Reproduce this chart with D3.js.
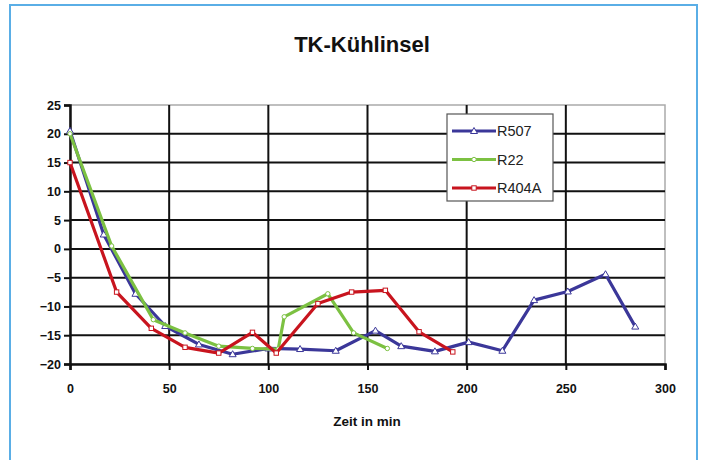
<!DOCTYPE html>
<html><head><meta charset="utf-8">
<script src="https://cdn.jsdelivr.net/npm/d3@7"></script>
<style>body{margin:0;background:#fff;}svg{display:block;font-family:"Liberation Sans",Arial,sans-serif;}</style>
</head><body>
<svg id="c" width="704" height="460"></svg>
<script>
const title = "TK-Kühlinsel";
const xTitle = "Zeit in min";
const seriesNames = ["R507", "R22", "R404A"];
const xTicks = [0, 50, 100, 150, 200, 250, 300];
const yTicks = [-20, -15, -10, -5, 0, 5, 10, 15, 20, 25];

const r507Time = [0, 17, 33, 48, 65, 82, 100, 116, 134, 154, 167, 184, 201, 218, 234, 251, 270, 285];
const r507Temp = [20.5, 2.5, -7.8, -13.4, -16.6, -18.3, -17.3, -17.4, -17.7, -14.2, -16.9, -17.8, -16.2, -17.7, -8.9, -7.4, -4.4, -13.5];
const r22Time = [0, 21, 42, 58, 75, 92, 105, 108, 130, 143, 160];
const r22Temp = [20, 0.5, -12.3, -14.6, -16.9, -17.3, -17.4, -11.8, -7.8, -14.6, -17.3];
const r404aTime = [0, 23.5, 41, 58, 75, 92, 104, 125, 142, 159, 176, 193];
const r404aTemp = [15, -7.5, -13.8, -17.1, -18.1, -14.5, -18.1, -9.5, -7.5, -7.2, -14.4, -17.9];

const colors = ["#3b3799", "#7cc142", "#c8141e"];
const markers = ["triangle", "circle", "square"];

const svg = d3.select("#c");
svg.append("rect").attr("x", 10).attr("y", 5).attr("width", 687).attr("height", 470)
  .attr("fill", "#fff").attr("stroke", "#5aaee6").attr("stroke-width", 2);

const x = d3.scaleLinear().domain([0, 300]).range([70, 665]);
const y = d3.scaleLinear().domain([-20, 25]).range([364, 105]);

svg.append("text").attr("x", 362).attr("y", 52).attr("text-anchor", "middle")
  .attr("font-size", 22).attr("font-weight", "bold").attr("fill", "#111").text(title);

svg.append("rect").attr("x", x(0)).attr("y", y(25)).attr("width", x(300) - x(0)).attr("height", y(-20) - y(25))
  .attr("fill", "none").attr("stroke", "#aaa").attr("stroke-width", 1.5);

const g = svg.append("g");
g.selectAll(".hg").data(yTicks.filter(v => v > -20 && v < 25)).join("line")
  .attr("x1", x(0)).attr("x2", x(300)).attr("y1", d => y(d)).attr("y2", d => y(d))
  .attr("stroke", "#111").attr("stroke-width", 2);
g.selectAll(".vg").data(xTicks.filter(v => v > 0 && v < 300)).join("line")
  .attr("y1", y(25)).attr("y2", y(-20)).attr("x1", d => x(d)).attr("x2", d => x(d))
  .attr("stroke", "#111").attr("stroke-width", 2);

const xAxis = svg.append("g").attr("transform", `translate(0,${y(-20)})`)
  .call(d3.axisBottom(x).tickValues(xTicks).tickSize(6).tickPadding(14));
const yAxis = svg.append("g").attr("transform", `translate(${x(0)},0)`)
  .call(d3.axisLeft(y).tickValues(yTicks).tickSize(6).tickPadding(3));
[xAxis, yAxis].forEach(a => {
  a.select(".domain").attr("stroke", "#111").attr("stroke-width", 2.5);
  a.selectAll(".tick line").attr("stroke", "#111").attr("stroke-width", 2);
  a.selectAll(".tick text").attr("font-size", 12.5).attr("font-weight", "bold").attr("fill", "#111")
    .attr("font-family", "Liberation Sans, Arial, sans-serif");
});

svg.append("text").attr("x", 367).attr("y", 426).attr("text-anchor", "middle")
  .attr("font-size", 13.5).attr("font-weight", "bold").attr("fill", "#111").text(xTitle);

const series = [
  r507Time.map((t, i) => [t, r507Temp[i]]),
  r22Time.map((t, i) => [t, r22Temp[i]]),
  r404aTime.map((t, i) => [t, r404aTemp[i]])
];
const line = d3.line().x(d => x(d[0])).y(d => y(d[1]));

function drawMarker(sel, type, color, cx, cy) {
  if (type === "triangle") {
    sel.append("path").attr("d", `M${cx},${cy - 3.5}L${cx + 3.5},${cy + 2.5}L${cx - 3.5},${cy + 2.5}Z`)
      .attr("fill", "#fff").attr("stroke", color).attr("stroke-width", 1);
  } else if (type === "circle") {
    sel.append("circle").attr("cx", cx).attr("cy", cy).attr("r", 2.2)
      .attr("fill", "#fff").attr("stroke", color).attr("stroke-width", 1);
  } else {
    sel.append("rect").attr("x", cx - 2.2).attr("y", cy - 2.2).attr("width", 4.4).attr("height", 4.4)
      .attr("fill", "#fff").attr("stroke", color).attr("stroke-width", 1);
  }
}

series.forEach((s, i) => {
  const gs = svg.append("g");
  gs.append("path").datum(s).attr("d", line).attr("fill", "none")
    .attr("stroke", colors[i]).attr("stroke-width", 3.2).attr("stroke-linejoin", "round");
  s.forEach(d => drawMarker(gs, markers[i], colors[i], x(d[0]), y(d[1])));
});

const lg = svg.append("g");
lg.append("rect").attr("x", 447).attr("y", 114).attr("width", 106).attr("height", 87)
  .attr("fill", "#fff").attr("stroke", "#555").attr("stroke-width", 1.2);
seriesNames.forEach((n, i) => {
  const ly = 131 + i * 28.5;
  lg.append("line").attr("x1", 452).attr("x2", 496).attr("y1", ly).attr("y2", ly)
    .attr("stroke", colors[i]).attr("stroke-width", 3.2);
  drawMarker(lg, markers[i], colors[i], 474, ly);
  lg.append("text").attr("x", 497).attr("y", ly + 5).attr("font-size", 14.5).attr("fill", "#222")
    .text(n);
});
</script>
</body></html>
